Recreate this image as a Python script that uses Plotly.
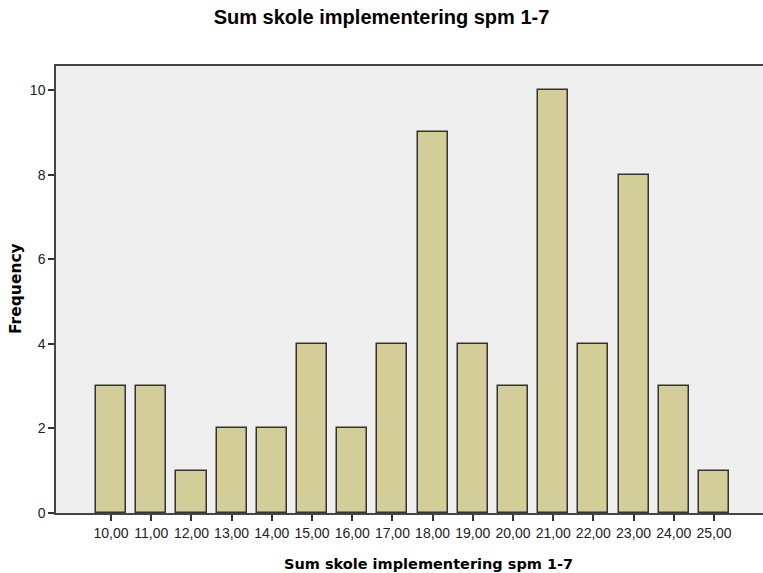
import plotly.graph_objects as go

values = [10, 11, 12, 13, 14, 15, 16, 17, 18, 19, 20, 21, 22, 23, 24, 25]
frequency = [3, 3, 1, 2, 2, 4, 2, 4, 9, 4, 3, 10, 4, 8, 3, 1]
tick_labels = [f"{v},00" for v in values]
y_ticks = [0, 2, 4, 6, 8, 10]

fig = go.Figure(go.Bar(
    x=values, y=frequency, width=0.75,
    marker=dict(color="#D3CE97", line=dict(color="#333333", width=1.5)),
))

W, H = 763, 573
L, T, B = 56, 66, 60
pw, ph = W - L, H - T - B

fig.update_layout(
    width=W, height=H,
    margin=dict(l=L, r=0, t=T, b=B),
    paper_bgcolor="white", plot_bgcolor="#EFEFEF",
    font=dict(family="Liberation Sans, Arial", size=13, color="#222222"),
    title=dict(text="<b>Sum skole implementering spm 1-7</b>", x=0.5, xanchor="center",
               xref="container", y=1 - 17 / H, yref="container", yanchor="middle",
               font=dict(family="Liberation Sans, Arial", size=20, color="#000000")),
    showlegend=False, bargap=0,
    annotations=[
        dict(text="<b>Sum skole implementering spm 1-7</b>", xref="paper", yref="paper",
             x=(428 - L) / pw, y=-(564 - (T + ph)) / ph, xanchor="center", yanchor="middle",
             showarrow=False, font=dict(family="DejaVu Sans, Verdana", size=14.5, color="#000000")),
        dict(text="<b>Frequency</b>", xref="paper", yref="paper", textangle=-90,
             x=(16 - L) / pw, y=1 - (289 - T) / ph, xanchor="center", yanchor="middle",
             showarrow=False, font=dict(family="DejaVu Sans, Verdana", size=15.5, color="#000000")),
    ],
)
fig.update_xaxes(
    range=[8.63, 26.22], tickvals=values, ticktext=tick_labels,
    ticks="outside", ticklen=6, tickcolor="#333333", tickwidth=1.5,
    showline=True, linecolor="#444444", linewidth=1.5, mirror=True,
    showgrid=False, zeroline=False, automargin=False,
    tickfont=dict(size=14, color="#222222"),
)
fig.update_yaxes(
    range=[0, 10.57], tickvals=y_ticks,
    ticks="outside", ticklen=6, tickcolor="#333333", tickwidth=1.5,
    showline=True, linecolor="#444444", linewidth=1.5,
    showgrid=False, zeroline=False, automargin=False,
    tickfont=dict(size=14, color="#222222"),
)

fig.write_html("out.html", config={"displayModeBar": False},
               post_script="document.body.style.margin='0';")
